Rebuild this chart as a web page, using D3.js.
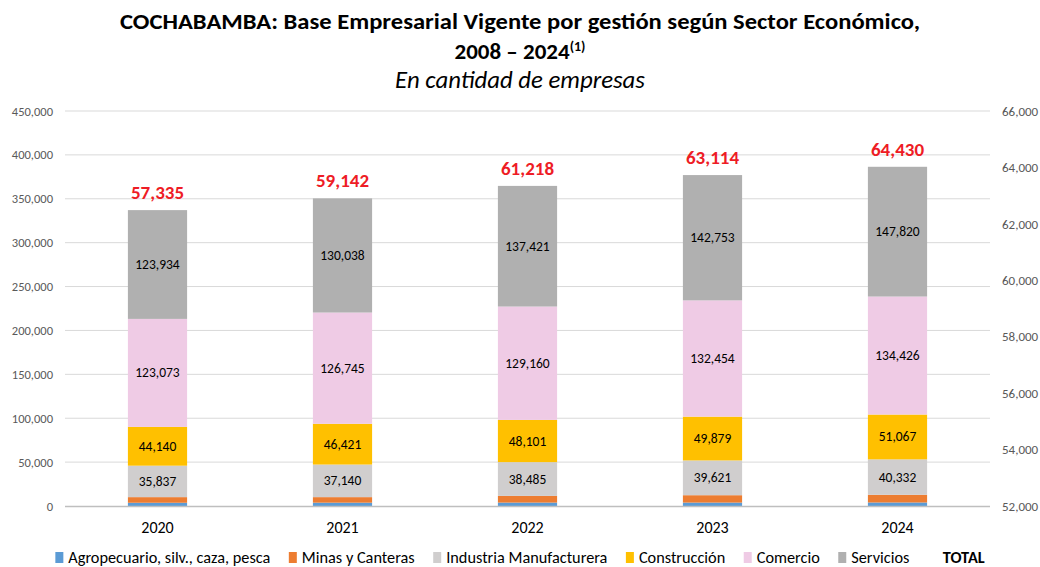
<!DOCTYPE html>
<html><head><meta charset="utf-8">
<script src="https://cdn.jsdelivr.net/npm/d3@7/dist/d3.min.js"></script>
<style>body{margin:0;background:#fff}svg{display:block}</style>
</head><body><svg id="c" width="1040" height="567"></svg>
<script>
const years = ["2020","2021","2022","2023","2024"];
const agropecuario = [3700, 3800, 3900, 3900, 4000];
const minas = [6400, 6300, 7600, 8400, 8800];
const industria = [35837, 37140, 38485, 39621, 40332];
const construccion = [44140, 46421, 48101, 49879, 51067];
const comercio = [123073, 126745, 129160, 132454, 134426];
const servicios = [123934, 130038, 137421, 142753, 147820];
const totals = [57335, 59142, 61218, 63114, 64430];
const leftTicks = [0,50000,100000,150000,200000,250000,300000,350000,400000,450000];
const rightTicks = [52000,54000,56000,58000,60000,62000,64000,66000];

const seriesNames = ["Agropecuario, silv., caza, pesca","Minas y Canteras","Industria Manufacturera","Construcción","Comercio","Servicios"];
const seriesVals = [agropecuario, minas, industria, construccion, comercio, servicios];
const colors = ["#5B9BD5","#ED7D31","#D0CECE","#FFC000","#EFCBE5","#B0B0B0"];
const showLabel = [false,false,true,true,true,true];

const FONT = "Carlito, Lato, 'Liberation Sans', sans-serif";
const svg = d3.select("#c");
const x = d3.scaleBand().domain(years).range([65, 990]).paddingInner(0.68).paddingOuter(0.34);
const y = d3.scaleLinear().domain([0,450000]).range([506, 111]);
const y2 = d3.scaleLinear().domain([52000,66000]).range([506, 111]);

// gridlines
svg.append("g").selectAll("line").data(leftTicks.filter(d=>d>0)).join("line")
  .attr("x1",65).attr("x2",990).attr("y1",d=>y(d)).attr("y2",d=>y(d))
  .attr("stroke","#D9D9D9").attr("stroke-width",1);

// left axis
const gl = svg.append("g").attr("transform","translate(65,0)")
  .call(d3.axisLeft(y).tickValues(leftTicks).tickFormat(d3.format(",")).tickSize(0).tickPadding(12));
gl.select(".domain").remove();
gl.selectAll("text").attr("fill","#595959").style("font-family",FONT).style("font-size","12.5px");

// right axis
const gr = svg.append("g").attr("transform","translate(990,0)")
  .call(d3.axisRight(y2).tickValues(rightTicks).tickFormat(d3.format(",")).tickSize(0).tickPadding(12));
gr.select(".domain").remove();
gr.selectAll("text").attr("fill","#595959").style("font-family",FONT).style("font-size","13px");

// stack
const rows = years.map((yr,i)=>{const o={year:yr}; seriesNames.forEach((s,k)=>o[s]=seriesVals[k][i]); return o;});
const stack = d3.stack().keys(seriesNames)(rows);
const gs = svg.append("g");
stack.forEach((layer,k)=>{
  gs.append("g").selectAll("rect").data(layer).join("rect")
    .attr("x",d=>x(d.data.year)).attr("width",x.bandwidth())
    .attr("y",d=>y(d[1])).attr("height",d=>y(d[0])-y(d[1]))
    .attr("fill",colors[k]);
  if(showLabel[k]){
    gs.append("g").selectAll("text").data(layer).join("text")
      .attr("x",d=>x(d.data.year)+x.bandwidth()/2).attr("y",d=>(y(d[0])+y(d[1]))/2)
      .attr("text-anchor","middle").attr("dominant-baseline","central")
      .style("font-family",FONT).style("font-size","13.5px").attr("fill","#000")
      .text(d=>d3.format(",")(d[1]-d[0]));
  }
});

// x axis line
svg.append("line").attr("x1",65).attr("x2",990).attr("y1",506.5).attr("y2",506.5).attr("stroke","#BFBFBF").attr("stroke-width",1.5);

// category labels
svg.append("g").selectAll("text").data(years).join("text")
  .attr("x",d=>x(d)+x.bandwidth()/2).attr("y",533)
  .attr("text-anchor","middle").style("font-family",FONT).style("font-size","16px").style("font-weight","normal").attr("fill","#000")
  .text(d=>d);

// totals
const topLayer = stack[stack.length-1];
svg.append("g").selectAll("text").data(totals).join("text")
  .attr("x",(d,i)=>x(years[i])+x.bandwidth()/2).attr("y",(d,i)=>y(topLayer[i][1])-11)
  .attr("text-anchor","middle").style("font-family",FONT).style("font-size","19px").style("font-weight","bold").attr("fill","#EE1C25")
  .text(d=>d3.format(",")(d));

// title
svg.append("text").attr("x",520).attr("y",29).attr("text-anchor","middle")
  .attr("textLength",800).attr("lengthAdjust","spacingAndGlyphs")
  .style("font-family",FONT).style("font-size","22.5px").style("font-weight","bold").attr("fill","#000")
  .text("COCHABAMBA: Base Empresarial Vigente por gestión según Sector Económico,");
const t2 = svg.append("text").attr("x",520).attr("y",59).attr("text-anchor","middle")
  .style("font-family",FONT).style("font-size","23px").style("font-weight","bold").attr("fill","#000");
t2.append("tspan").text("2008 – 2024");
t2.append("tspan").attr("dy",-8).style("font-size","14px").text("(1)");
svg.append("text").attr("x",520).attr("y",88).attr("text-anchor","middle")
  .attr("textLength",250).attr("lengthAdjust","spacingAndGlyphs")
  .style("font-family",FONT).style("font-size","23.5px").style("font-style","italic").attr("fill","#000")
  .text("En cantidad de empresas");

// legend
const lg = svg.append("g");
const legendItems = seriesNames.map((n,k)=>({name:n,color:colors[k]})).concat([{name:"TOTAL",color:null}]);
let cx = 0;
legendItems.forEach(it=>{
  const g = lg.append("g").attr("transform",`translate(${cx},0)`);
  let tx = 0;
  if(it.color){ g.append("rect").attr("x",0).attr("y",-11).attr("width",8).attr("height",11).attr("fill",it.color); tx = 13; }
  else { tx = 15; }
  const t = g.append("text").attr("x",tx).attr("y",0).style("font-family",FONT).style("font-size","16.3px")
    .style("font-weight",it.color?"normal":"bold").attr("fill","#000").text(it.name);
  const w = tx + t.node().getComputedTextLength();
  cx += w + 18.5;
});
const totalW = cx - 18.5;
lg.attr("transform",`translate(${520-totalW/2},563)`);
</script></body></html>
